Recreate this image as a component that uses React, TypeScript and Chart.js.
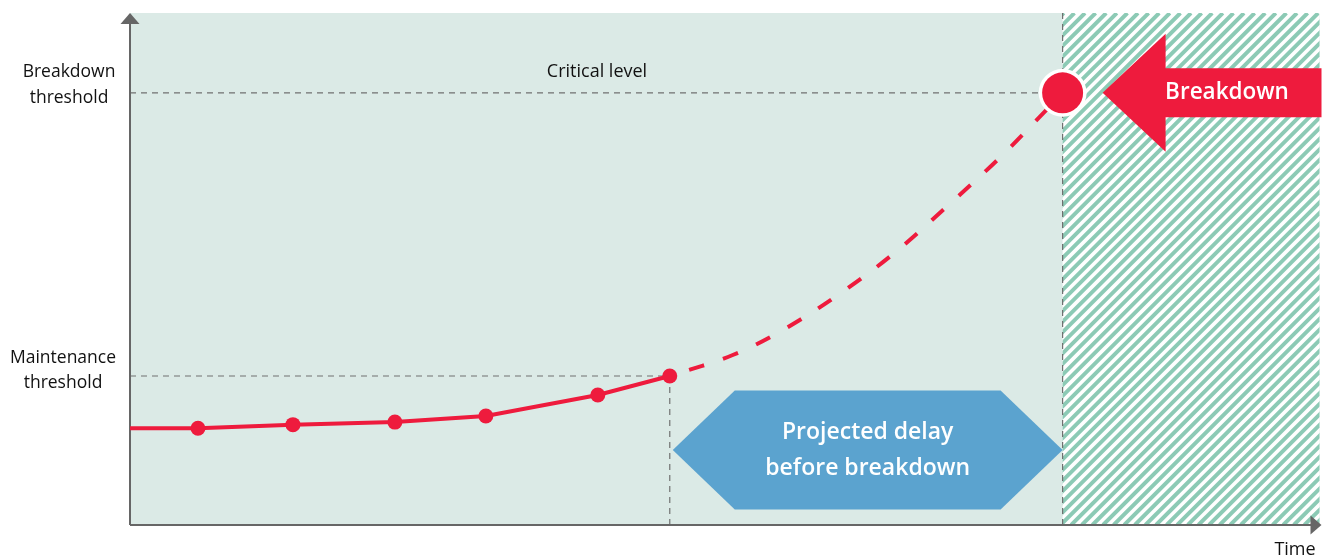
import React, { useEffect, useRef } from "react";
import { Chart, registerables } from "chart.js";

Chart.register(...registerables);

// Time axis (0..119) and level axis (0..100)
const solidX = [0, 6.8, 16.3, 26.5, 35.6, 46.8, 54.0];
const solidY = [18.9, 18.9, 19.6, 20.1, 21.3, 25.4, 29.1];
const solidMarkers = [0, 7.5, 7.5, 7.5, 7.5, 7.5, 7.5];

const projX = [54.0, 60.3, 65.5, 71.4, 76.7, 82.0, 87.1, 91.2, 93.3];
const projY = [29.1, 33.2, 38.3, 45.7, 53.5, 62.7, 71.9, 80.1, 84.4];

const maintenanceLevel = 29.1;
const breakdownLevel = 84.4;
const nowTime = 54.0;
const breakdownTime = 93.3;

const maintenanceLabel = ["Maintenance", "threshold"];
const breakdownLabel = ["Breakdown", "threshold"];
const criticalLabel = "Critical level";
const timeLabel = "Time";
const breakdownArrowLabel = "Breakdown";
const delayLabel = ["Projected delay", "before breakdown"];

const BG = "#dbeae6";
const RED = "#ee1b3d";
const BLUE = "#5ba3cf";
const HATCH = "#8ccab5";
const AXIS = "#666666";
const GRID = "#707070";
const TEXT = "#111111";
const FONT = "'Open Sans', 'Noto Sans', sans-serif";

const decorPlugin = {
  id: "decor",
  beforeDatasetsDraw(chart: any) {
    const { ctx, chartArea, scales } = chart;
    const xs = scales.x;
    const ys = scales.y;
    const { left, right, top, bottom } = chartArea;
    const xNow = xs.getPixelForValue(nowTime);
    const xBrk = xs.getPixelForValue(breakdownTime);
    const yMaint = ys.getPixelForValue(maintenanceLevel);
    const yBrk = ys.getPixelForValue(breakdownLevel);

    ctx.save();
    // background
    ctx.fillStyle = BG;
    ctx.fillRect(left, top, right - left, bottom - top);

    // hatch region
    ctx.fillStyle = "#ffffff";
    ctx.fillRect(xBrk, top, right - xBrk, bottom - top);
    ctx.save();
    ctx.beginPath();
    ctx.rect(xBrk, top, right - xBrk, bottom - top);
    ctx.clip();
    ctx.strokeStyle = HATCH;
    ctx.lineWidth = 3.9;
    const h = bottom - top;
    for (let x = xBrk - h - 20; x < right + 20; x += 10.6) {
      ctx.beginPath();
      ctx.moveTo(x, bottom);
      ctx.lineTo(x + h, top);
      ctx.stroke();
    }
    ctx.restore();

    // dashed reference lines
    ctx.strokeStyle = GRID;
    ctx.lineWidth = 1.2;
    ctx.setLineDash([6, 5]);
    ctx.beginPath();
    ctx.moveTo(left, yBrk);
    ctx.lineTo(xBrk, yBrk);
    ctx.moveTo(left, yMaint);
    ctx.lineTo(xNow, yMaint);
    ctx.moveTo(xNow, yMaint);
    ctx.lineTo(xNow, bottom);
    ctx.moveTo(xBrk, top);
    ctx.lineTo(xBrk, bottom);
    ctx.stroke();
    ctx.setLineDash([]);

    // hexagon (projected delay)
    const hexMid = 450;
    const hexHalf = 59.5;
    const inset = 62;
    ctx.fillStyle = BLUE;
    ctx.beginPath();
    ctx.moveTo(xNow + 3, hexMid);
    ctx.lineTo(xNow + 3 + inset, hexMid - hexHalf);
    ctx.lineTo(xBrk - inset, hexMid - hexHalf);
    ctx.lineTo(xBrk, hexMid);
    ctx.lineTo(xBrk - inset, hexMid + hexHalf);
    ctx.lineTo(xNow + 3 + inset, hexMid + hexHalf);
    ctx.closePath();
    ctx.fill();
    ctx.fillStyle = "#ffffff";
    ctx.font = `600 23px ${FONT}`;
    ctx.textAlign = "center";
    ctx.textBaseline = "middle";
    const hc = (xNow + 3 + xBrk) / 2;
    ctx.fillText(delayLabel[0], hc, hexMid - 18);
    ctx.fillText(delayLabel[1], hc, hexMid + 18);

    // axes
    ctx.strokeStyle = AXIS;
    ctx.fillStyle = AXIS;
    ctx.lineWidth = 2;
    ctx.beginPath();
    ctx.moveTo(left, bottom);
    ctx.lineTo(left, top + 8);
    ctx.moveTo(left, bottom);
    ctx.lineTo(right - 8, bottom);
    ctx.stroke();
    ctx.beginPath();
    ctx.moveTo(left, top);
    ctx.lineTo(left - 9.5, top + 11);
    ctx.lineTo(left + 9.5, top + 11);
    ctx.closePath();
    ctx.fill();
    ctx.beginPath();
    ctx.moveTo(right + 2, bottom);
    ctx.lineTo(right - 9, bottom - 9.5);
    ctx.lineTo(right - 9, bottom + 9.5);
    ctx.closePath();
    ctx.fill();

    // text labels
    ctx.fillStyle = TEXT;
    ctx.font = `17.5px ${FONT}`;
    ctx.textAlign = "center";
    ctx.textBaseline = "middle";
    ctx.fillText(breakdownLabel[0], 69, yBrk - 21);
    ctx.fillText(breakdownLabel[1], 69, yBrk + 5);
    ctx.fillText(maintenanceLabel[0], 63, yMaint - 18);
    ctx.fillText(maintenanceLabel[1], 63, yMaint + 7);
    ctx.font = `18px ${FONT}`;
    ctx.fillText(criticalLabel, 597, yBrk - 21);
    ctx.fillText(timeLabel, 1295, bottom + 25);
    ctx.restore();
  },
  afterDatasetsDraw(chart: any) {
    const { ctx, chartArea, scales } = chart;
    const xs = scales.x;
    const ys = scales.y;
    const xBrk = xs.getPixelForValue(breakdownTime);
    const yBrk = ys.getPixelForValue(breakdownLevel);
    ctx.save();
    // breakdown point
    ctx.fillStyle = "#ffffff";
    ctx.beginPath();
    ctx.arc(xBrk, yBrk, 24, 0, Math.PI * 2);
    ctx.fill();
    ctx.fillStyle = RED;
    ctx.beginPath();
    ctx.arc(xBrk, yBrk, 20.5, 0, Math.PI * 2);
    ctx.fill();

    // arrow
    const tip = xBrk + 40;
    const headEnd = tip + 63;
    const rEnd = chartArea.right + 2;
    ctx.beginPath();
    ctx.moveTo(tip, yBrk);
    ctx.lineTo(headEnd, yBrk - 59);
    ctx.lineTo(headEnd, yBrk - 24.5);
    ctx.lineTo(rEnd, yBrk - 24.5);
    ctx.lineTo(rEnd, yBrk + 24.5);
    ctx.lineTo(headEnd, yBrk + 24.5);
    ctx.lineTo(headEnd, yBrk + 59);
    ctx.closePath();
    ctx.fill();
    ctx.fillStyle = "#ffffff";
    ctx.font = `600 22.5px ${FONT}`;
    ctx.textAlign = "center";
    ctx.textBaseline = "middle";
    ctx.fillText(breakdownArrowLabel, 1227, yBrk);
    ctx.restore();
  },
};

export default function App() {
  const ref = useRef<HTMLCanvasElement | null>(null);
  useEffect(() => {
    if (!ref.current) return;
    const chart = new Chart(ref.current, {
      type: "line",
      data: {
        datasets: [
          {
            data: projX.map((x, i) => ({ x, y: projY[i] })),
            borderColor: RED,
            borderWidth: 4,
            borderDash: [16, 20],
            borderDashOffset: 16,
            borderCapStyle: "butt",
            tension: 0.35,
            pointRadius: 0,
            fill: false,
          },
          {
            data: solidX.map((x, i) => ({ x, y: solidY[i] })),
            borderColor: RED,
            backgroundColor: RED,
            borderWidth: 4,
            tension: 0,
            pointRadius: solidMarkers,
            pointBorderWidth: 0,
            pointBackgroundColor: RED,
            fill: false,
          },
        ],
      },
      options: {
        responsive: false,
        maintainAspectRatio: false,
        animation: false,
        layout: { padding: { left: 130, right: 7, top: 13, bottom: 34 } },
        scales: {
          x: { type: "linear", min: 0, max: 119, display: false },
          y: { type: "linear", min: 0, max: 100, display: false },
        },
        plugins: { legend: { display: false }, tooltip: { enabled: false } },
        events: [],
      },
      plugins: [decorPlugin],
    } as any);
    return () => chart.destroy();
  }, []);
  return (
    <div style={{ position: "absolute", left: 0, top: 0, width: 1327, height: 559, background: "#fff" }}>
      <canvas ref={ref} width={1327} height={559} style={{ width: 1327, height: 559, display: "block" }} />
    </div>
  );
}
